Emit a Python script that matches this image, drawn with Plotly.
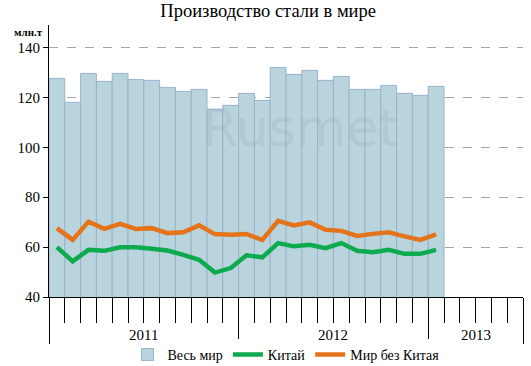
import plotly.graph_objects as go

# ---- data ----
years = ["2011", "2012", "2013"]
months_per_year = [12, 12, 6]
world = [127.6, 118.0, 129.6, 126.4, 129.6, 127.2, 126.8, 124.0, 122.4, 123.2, 115.2, 116.8,
         121.6, 118.8, 132.0, 129.2, 130.8, 126.8, 128.4, 123.2, 123.2, 124.8, 121.6, 120.8,
         124.4]
china = [60.0, 54.3, 58.9, 58.5, 59.9, 59.9, 59.3, 58.6, 56.9, 54.9, 49.8, 51.6,
         56.7, 55.9, 61.6, 60.3, 60.9, 59.6, 61.6, 58.5, 57.9, 58.9, 57.3, 57.3,
         58.9]
world_ex_china = [67.6, 62.9, 70.2, 67.3, 69.3, 67.3, 67.6, 65.6, 65.9, 68.7, 65.2, 64.9,
                  65.2, 62.9, 70.5, 68.7, 69.9, 66.9, 66.5, 64.5, 65.3, 65.9, 64.3, 62.9,
                  65.1]
y_ticks = [40, 60, 80, 100, 120, 140]

serif = "Liberation Serif"
n_slots = sum(months_per_year)
x = list(range(len(world)))

# year boundaries and centres in category units
bounds = [-0.5]
for m in months_per_year:
    bounds.append(bounds[-1] + m)
centres = [(bounds[i] + bounds[i + 1]) / 2 for i in range(len(years))]

fig = go.Figure()
fig.add_trace(go.Bar(
    x=x, y=world, name="Весь мир",
    marker=dict(color="#BAD4DD", line=dict(color="#98B3CF", width=1)),
))
fig.add_trace(go.Scatter(
    x=x, y=china, name="Китай", mode="lines",
    line=dict(color="#0DAA4F", width=4.5),
))
fig.add_trace(go.Scatter(
    x=x, y=world_ex_china, name="Мир без Китая", mode="lines",
    line=dict(color="#E4731A", width=4.5),
))

fig.update_layout(
    width=531, height=366,
    margin=dict(l=49, r=8, t=25, b=69, autoexpand=False),
    paper_bgcolor="white", plot_bgcolor="white",
    bargap=0,
    font=dict(family=serif, size=13, color="black"),
    title=dict(text="Производство стали в мире", x=0.505, xanchor="center",
               y=0.97, yanchor="middle", font=dict(family=serif, size=18.5)),
    showlegend=True,
    legend=dict(orientation="h", x=0.5, xanchor="center",
                y=-0.213, yanchor="middle", font=dict(family=serif, size=14),
                itemwidth=30, tracegroupgap=0),
    xaxis=dict(
        range=[-0.5, n_slots - 0.5], showgrid=False, zeroline=False,
        showline=True, linecolor="black", linewidth=1, automargin=False,
        tickmode="array", tickvals=bounds, ticks="outside", ticklen=46,
        tickcolor="black", tickwidth=1, showticklabels=False,
        minor=dict(tickmode="linear", tick0=-0.5, dtick=1, ticks="outside",
                   ticklen=25, tickcolor="black", tickwidth=1, showgrid=False),
    ),
    yaxis=dict(
        range=[40, 149], tickvals=y_ticks, showline=True, linecolor="black",
        linewidth=1, ticks="outside", ticklen=5, tickcolor="black",
        showgrid=True, gridcolor="#A6A6A6", griddash="dash", gridwidth=1,
        zeroline=False, layer="above traces", automargin=False,
        tickfont=dict(family=serif, size=15),
    ),
)

annotations = []
for yr, c in zip(years, centres):
    annotations.append(dict(x=c, y=0, xref="x", yref="paper", text=yr,
                            showarrow=False, yanchor="middle", yshift=-38,
                            font=dict(family=serif, size=15)))
annotations.append(dict(x=0, y=1, xref="paper", yref="paper", text="<b>млн.т</b>",
                        showarrow=False, xanchor="right", xshift=-4,
                        yanchor="middle", yshift=-7,
                        font=dict(family=serif, size=11)))
annotations.append(dict(x=0.53, y=0.62, xref="paper", yref="paper", text="Rusmet",
                        showarrow=False, font=dict(family="DejaVu Sans", size=52,
                                                   color="rgba(140,165,178,0.22)")))
fig.update_layout(annotations=annotations)

fig.write_html("out.html",
               config={"displayModeBar": False, "staticPlot": True},
               post_script="document.body.style.margin='0px';")
